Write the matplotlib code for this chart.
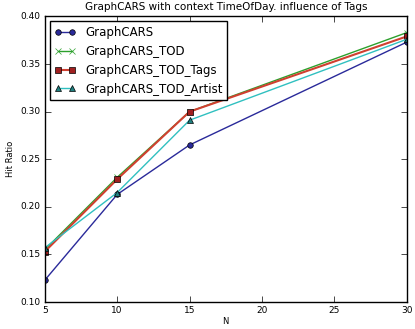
import matplotlib
matplotlib.use("Agg")
import matplotlib.pyplot as plt

# values
n_values = [5, 10, 15, 30]
graphcars = [0.123, 0.213, 0.265, 0.373]
graphcars_tod = [0.155, 0.231, 0.300, 0.383]
graphcars_tod_tags = [0.153, 0.229, 0.300, 0.379]
graphcars_tod_artist = [0.157, 0.215, 0.291, 0.376]

plt.style.use("classic")
plt.rcParams["font.family"] = "DejaVu Sans"

fig = plt.figure(figsize=(4.15, 3.29), dpi=100, facecolor="white")
ax = fig.add_axes([0.108, 0.082, 0.872, 0.868])

ax.plot(n_values, graphcars, "-o", color="#2a2a9a", markersize=4, label="GraphCARS")
ax.plot(n_values, graphcars_tod, "-x", color="#2ca02c", markersize=4, label="GraphCARS_TOD")
ax.plot(n_values, graphcars_tod_tags, "-s", color="#d04030", markersize=5, linewidth=1.5,
        markerfacecolor="#a02020", label="GraphCARS_TOD_Tags")
ax.plot(n_values, graphcars_tod_artist, "-^", color="#30c0c0", markersize=4,
        markerfacecolor="#208080", label="GraphCARS_TOD_Artist")

ax.set_xlim(5, 30)
ax.set_ylim(0.10, 0.40)
ax.set_xticks([5, 10, 15, 20, 25, 30])
ax.set_yticks([0.10, 0.15, 0.20, 0.25, 0.30, 0.35, 0.40])
ax.tick_params(labelsize=6.5, pad=3)
ax.set_xlabel("N", fontsize=6, labelpad=1)
ax.set_ylabel("Hit Ratio", fontsize=6, labelpad=4)
ax.set_title("GraphCARS with context TimeOfDay. influence of Tags", fontsize=7.5)

leg = ax.legend(loc="upper left", fontsize=8.5, numpoints=2, handlelength=1.8,
                borderaxespad=0.4)
leg.get_frame().set_linewidth(1.0)

fig.savefig("out.png", dpi=100, facecolor="white")
